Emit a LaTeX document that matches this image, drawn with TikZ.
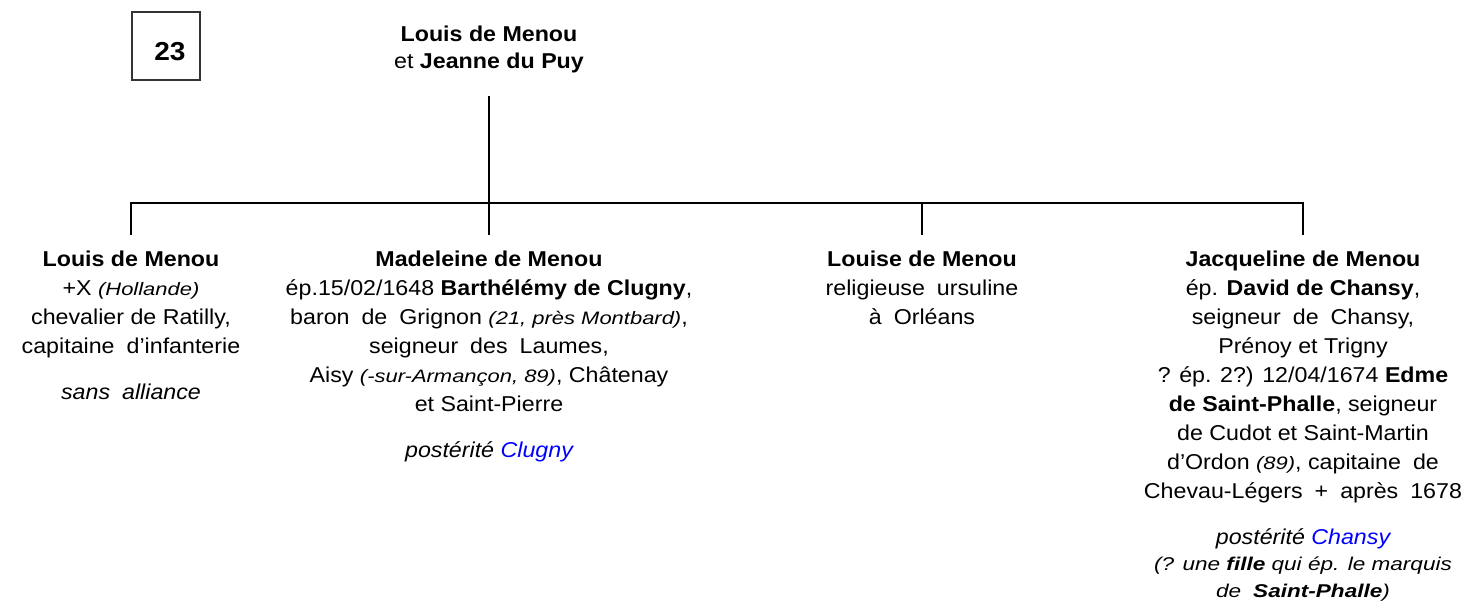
\documentclass[tikz,border=0pt]{standalone}
\usepackage{fontspec}
\setmainfont[FakeStretch=1.08]{Liberation Sans}
\newfontfamily\smitfont[FakeStretch=1.22]{Liberation Sans}
\newcommand\smit[1]{{\fontsize{18}{20}\selectfont\smitfont\itshape #1}}
\newcommand\fstrut{\rule{0pt}{17pt}}
\newcommand\wsp{\hspace{12pt}}
\begin{document}
\begin{tikzpicture}[x=1pt,y=-1pt,
  conn/.style={line width=2.7pt},
  txt/.style={anchor=north, inner sep=0pt, align=center, font=\fontsize{21.5}{29}\selectfont},
  numbox/.style={draw=black!80, line width=1.2pt, minimum width=68pt, minimum height=68pt, inner sep=0pt}]
\useasboundingbox (0,0) rectangle (1470,600);
\fill[white] (0,0) rectangle (1470,600);

\node[numbox] (box) at (166,46) {};
\node[inner sep=0pt, font=\fontsize{26}{30}\selectfont\bfseries] (num) at (170,52) {23};

\node[txt, font=\fontsize{21.5}{27}\selectfont] (parent) at (489,24)
  {\fstrut\textbf{Louis de Menou}\\ et \textbf{Jeanne du Puy}};

\node[txt] (louis) at (131,249)
  {\fstrut\textbf{Louis de Menou}\\
   +X \smit{(Hollande)}\\
   chevalier de Ratilly,\\
   capitaine\wsp d’infanterie};
\node[txt] (louisnote) at (131,382) {\fstrut\textit{sans\wsp alliance}};

\node[txt] (madeleine) at (489,249)
  {\fstrut\textbf{Madeleine de Menou}\\
   ép.15/02/1648 \textbf{Barthélémy de Clugny},\\
   baron\wsp de\wsp Grignon \smit{(21, près Montbard)},\\
   seigneur\wsp des\wsp Laumes,\\
   Aisy \smit{(-sur-Armançon, 89)}, Châtenay\\
   et Saint-Pierre};
\node[txt] (madnote) at (489,440) {\fstrut\textit{postérité \textcolor{blue}{Clugny}}};

\node[txt] (louise) at (922,249)
  {\fstrut\textbf{Louise de Menou}\\
   religieuse\wsp ursuline\\
   à\wsp Orléans};

\node[txt] (jacqueline) at (1303,249)
  {\fstrut\textbf{Jacqueline de Menou}\\
   ép. \textbf{David de Chansy},\\
   seigneur\wsp de\wsp Chansy,\\
   Prénoy et Trigny\\
   ? ép. 2?) 12/04/1674 \textbf{Edme}\\
   \textbf{de Saint-Phalle}, seigneur\\
   de Cudot et Saint-Martin\\
   d’Ordon \smit{(89)}, capitaine\wsp de\\
   Chevau-Légers\wsp +\wsp après\wsp 1678};
\node[txt, font=\fontsize{21.5}{26.5}\selectfont] (jacqnote) at (1303,527)
  {\fstrut\textit{postérité \textcolor{blue}{Chansy}}\\
   {\fontsize{18.5}{22}\selectfont\smitfont\itshape (? une \textbf{fille} qui ép. le marquis}\\
   {\fontsize{18.5}{22}\selectfont\smitfont\itshape de\wsp \textbf{Saint-Phalle})}};

\coordinate (hub) at (489,203);
\draw[conn, shorten <=23pt] (parent.south) -- (hub);
\foreach \c in {louis,madeleine,louise,jacqueline}
  \draw[conn, shorten >=14pt] (hub) -| (\c.north);
\end{tikzpicture}
\end{document}
